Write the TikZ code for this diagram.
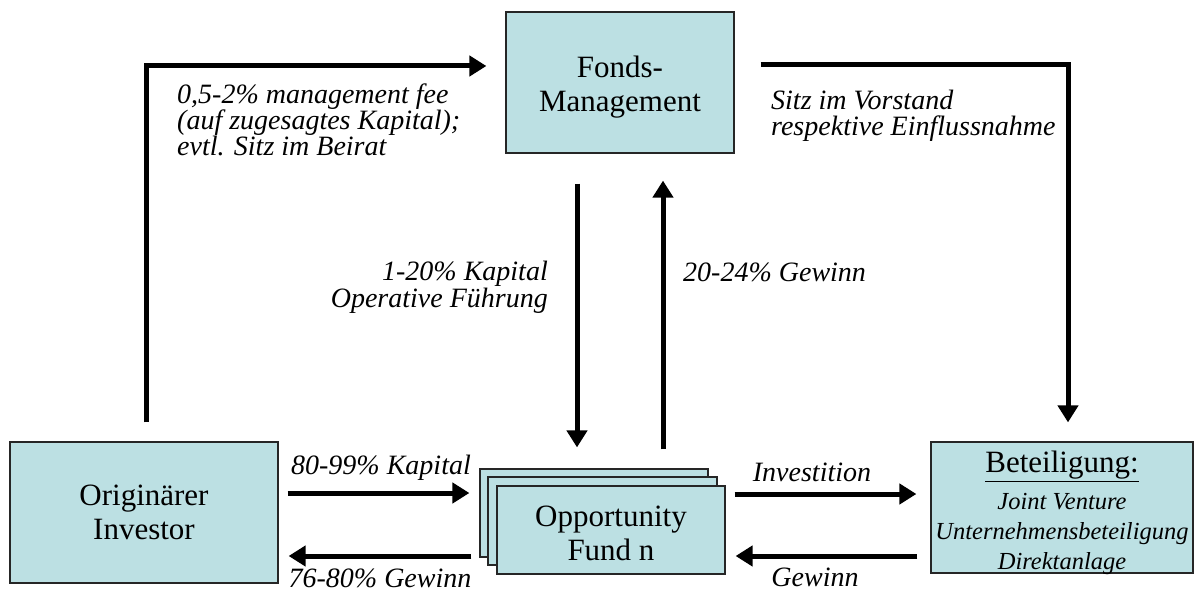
\documentclass[tikz,border=0pt]{standalone}
\usepackage{fontspec}
\setmainfont{Liberation Serif}
\usetikzlibrary{arrows.meta,calc}
\definecolor{boxfill}{RGB}{188,224,227}
\lineskiplimit=-50pt
\lineskip=0pt
\tikzset{
  box/.style={draw=black!85, line width=1.2pt, fill=boxfill, inner sep=0pt, align=center,
    font=\fontsize{31}{34}\selectfont},
  arr/.style={line width=5pt, -{Triangle[length=17pt,width=20pt]}},
  lbl/.style={inner sep=0pt, font=\fontsize{28}{28}\selectfont\itshape},
}
\newcommand{\subit}[1]{\fontsize{24.5}{30}\selectfont\itshape #1}
\begin{document}
\begin{tikzpicture}[x=1pt,y=-1pt]
\useasboundingbox (0,0) rectangle (1195,591);
\fill[white] (0,0) rectangle (1195,591);
% boxes
\node[box, minimum width=228pt, minimum height=141pt] (fm) at (620,82.5) {\rule{0pt}{31pt}Fonds-\\Management};
\node[box, minimum width=268pt, minimum height=141pt] (inv) at (144,512.5) {Originärer\\Investor};
\node[box, minimum width=262pt, minimum height=131pt] (bet) at (1062,507.5) {};
\node[inner sep=0pt, align=center, font=\fontsize{31}{30}\selectfont] (bett) at (1062,513)
  {\underline{Beteiligung:}\\[7pt]\subit{Joint Venture}\\\subit{Unternehmensbeteiligung}\\\subit{Direktanlage}};
\node[box, minimum width=228pt, minimum height=88pt] (opa) at (594,513) {};
\node[box, minimum width=229pt, minimum height=88pt] (opb) at (602.5,521) {};
\node[box, minimum width=228pt, minimum height=88pt] (opc) at (611,530) {\rule{0pt}{27pt}Opportunity\\Fund n};
% connector ends
\coordinate (tlS) at ($(inv.north)+(2,-19)$);
\coordinate (tlE) at ($(fm.west)+(-19,-16.5)$);
\coordinate (trS) at ($(fm.east)+(26,-17.5)$);
\coordinate (trE) at ($(bet.north)+(6,-19)$);
\coordinate (dS) at ($(fm.south)+(-43,30)$);
\coordinate (dE) at ($(opa.north)+(-17,-21)$);
\coordinate (uS) at ($(opa.north)+(69,-19)$);
\coordinate (uE) at ($(fm.south)+(43,27)$);
\coordinate (kS) at ($(inv.east)+(9,-19.5)$);
\coordinate (kE) at ($(opa.west)+(-10,-20)$);
\coordinate (gS) at ($(opa.west)+(-8,43)$);
\coordinate (gE) at ($(inv.east)+(10,43.5)$);
\coordinate (iS) at ($(opc.east)+(9,-36)$);
\coordinate (iE) at ($(bet.west)+(-14,-13.5)$);
\coordinate (wS) at ($(bet.west)+(-13,48.5)$);
\coordinate (wE) at ($(opc.east)+(10,26)$);
% connectors
\draw[arr] (tlS) |- (tlE);
\draw[arr] (trS) -| (trE);
\draw[arr] (dS) -- (dE);
\draw[arr] (uS) -- (uE);
\draw[arr] (kS) -- (kE);
\draw[arr] (gS) -- (gE);
\draw[arr] (iS) -- (iE);
\draw[arr] (wS) -- (wE);
% labels
\node[lbl, anchor=north west, align=left, font=\fontsize{28}{26}\selectfont\itshape] (l1) at (177,84)
  {0,5-2\% management fee\\(auf zugesagtes Kapital);\\evtl. Sitz im Beirat};
\node[lbl, anchor=north west, align=left, font=\fontsize{28}{26}\selectfont\itshape] (l2) at (771,90)
  {Sitz im Vorstand\\respektive Einflussnahme};
\node[lbl, anchor=east, align=right, font=\fontsize{28}{27}\selectfont\itshape] (l3) at (548,287)
  {1-20\% Kapital\\Operative Führung};
\node[lbl, anchor=base west] (l4) at (683,281) {20-24\% Gewinn};
\node[lbl, anchor=base] (l5) at (381,474) {80-99\% Kapital};
\node[lbl, anchor=base] (l6) at (380,587) {76-80\% Gewinn};
\node[lbl, anchor=base] (l7) at (812,481) {Investition};
\node[lbl, anchor=base] (l8) at (815,586) {Gewinn};
\end{tikzpicture}
\end{document}
